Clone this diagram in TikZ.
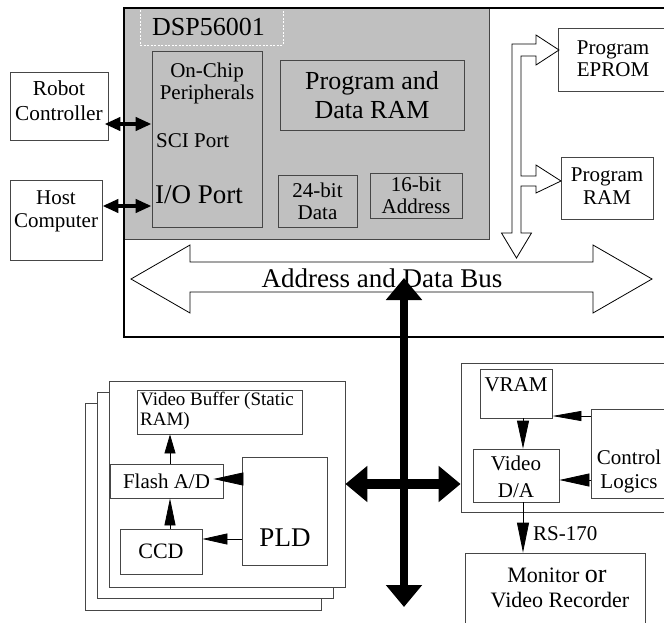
\documentclass[tikz,border=0pt]{standalone}
\usepackage{fontspec}
\setmainfont{Liberation Serif}
\usetikzlibrary{arrows.meta,calc}
\definecolor{chipgray}{RGB}{192,192,192}
\definecolor{edge}{RGB}{70,70,70}
\newcommand\myfs[2]{\fontsize{#1}{#2}\selectfont}
\begin{document}
\begin{tikzpicture}[x=1pt,y=-1pt,
  box/.style={draw=edge, line width=0.8pt, fill=white, inner sep=0pt},
  inbox/.style={draw=edge, line width=0.8pt, inner sep=0pt, align=center},
  txt/.style={inner sep=0pt, align=center},
  hollow/.style={draw=black, line width=0.8pt, fill=white, line join=miter},
  thinarrow/.style={draw=black, line width=0.8pt},
  ah/.style n args={2}{-{Triangle[length=#1pt,width=#2pt]}},
  dah/.style n args={2}{{Triangle[length=#1pt,width=#2pt]}-{Triangle[length=#1pt,width=#2pt]}},
  busarrow/.style={draw=black, dah={22}{35}}]
\useasboundingbox (0,0) rectangle (664,623);
\clip (0,0) rectangle (664,623);

% ---- DSP chip area ----
\node[draw=edge, line width=0.8pt, fill=chipgray, minimum width=365pt, minimum height=231pt] (dsp) at (306.5,123.5) {};
\node[draw=white, line width=0.6pt, dash pattern=on 2pt off 1.5pt, minimum width=143pt, minimum height=37pt] (dsplabel) at (211.5,26.5) {};
\node[txt, font=\myfs{26}{30}, anchor=base west] (dspname) at (152,36) {DSP56001};

\node[inbox, minimum width=110pt, minimum height=176pt] (periph) at (207,139) {};
\node[txt, font=\myfs{21}{22}] (periphtxt) at (207,83) {On-Chip\\Peripherals};
\node[txt, font=\myfs{21}{25}, anchor=base west] (sci) at (156,147) {SCI Port};
\node[txt, font=\myfs{27}{30}, anchor=base west] (io) at (155,203) {I/O Port};

\node[inbox, minimum width=184pt, minimum height=70pt, font=\myfs{26}{29}] (ram) at (372,95) {Program and\\Data RAM};
\node[inbox, minimum width=79pt, minimum height=52pt, font=\myfs{21}{22}] (d24) at (317.5,201) {24-bit\\Data};
\node[inbox, minimum width=92pt, minimum height=45pt, font=\myfs{21}{22}] (a16) at (416,195.5) {16-bit\\Address};

% ---- main board frame ----
\node[draw=black, line width=2pt, minimum width=576pt, minimum height=329pt] (board) at (412,172.5) {};

% ---- external units ----
\node[box, minimum width=98pt, minimum height=68pt] (robot) at (59,106) {};
\node[txt, font=\myfs{21.3}{25}] (robottxt) at (59,101) {Robot\\Controller};
\node[box, minimum width=92pt, minimum height=80pt] (host) at (56,220) {};
\node[txt, font=\myfs{21}{23}] (hosttxt) at (56,211) {Host\\Computer};

\draw[line width=4pt, dah={16}{13}] ($(robot.east |- 0,124)+(-4,0)$) -- (periph.west |- 0,124);
\draw[line width=4pt, dah={16}{13}] (host.east |- 0,206) -- (periph.west |- 0,206);

% ---- program memories ----
\node[box, minimum width=142pt, minimum height=63pt] (eprom) at (629,59.5) {};
\node[txt, font=\myfs{21}{22}] (epromtxt) at (613,59) {Program\\EPROM};
\node[box, minimum width=92pt, minimum height=62pt] (pram) at (607,188) {};
\node[txt, font=\myfs{21}{23}] (pramtxt) at (607,186) {Program\\RAM};

% ---- address and data bus ----
\draw[hollow] (131,279) -- (190,245) -- (190,262) -- (593,262) -- (593,245)
  -- (652,279) -- (593,313) -- (593,292) -- (190,292) -- (190,313) -- cycle;
\node[txt, font=\myfs{27}{30}, anchor=base] (bus) at (382,287) {Address and Data Bus};

% bus branch to the program memories
\draw[hollow] (512,44) -- (536,44) -- (536,35) -- (559,50) -- (536,65) -- (536,56)
  -- (521,56) -- (521,176) -- (536,176) -- (536,165) -- (561,181) -- (536,193)
  -- (536,186) -- (521,186) -- (521,233) -- (531.5,233) -- (516.5,258)
  -- (501.5,233) -- (512,233) -- cycle;

% ---- camera boards (stacked) ----
\node[box, minimum width=236pt, minimum height=207pt] (back) at (203,506.5) {};
\node[box, minimum width=236pt, minimum height=206pt] (mid) at (215,495) {};
\node[box, minimum width=236pt, minimum height=206pt] (front) at (227,484) {};

\node[box, minimum width=165pt, minimum height=44pt] (vbuf) at (219.5,412) {};
\node[txt, font=\myfs{19}{20}, anchor=base west] (vbufa) at (140,405) {Video Buffer (Static};
\node[txt, font=\myfs{19}{20}, anchor=base west] (vbufb) at (140,425) {RAM)};
\node[box, minimum width=113pt, minimum height=34pt, font=\myfs{21}{24}] (flash) at (166.5,481) {Flash A/D};
\node[box, minimum width=82pt, minimum height=45pt, font=\myfs{22}{24}] (ccd) at (161,551.5) {CCD};
\node[box, minimum width=85pt, minimum height=108pt] (pld) at (284.5,511) {};
\node[txt, font=\myfs{27}{30}, anchor=base] (pldtxt) at (285,546) {PLD};

\draw[thinarrow, ah={19}{11}] (flash.north -| 170,0) -- (vbuf.south -| 170,0);
\draw[thinarrow, ah={27}{11}] (ccd.north -| 170,0) -- (flash.south -| 170,0);
\draw[thinarrow, ah={30}{13}] (pld.west |- 0,479) -- ($(flash.east |- 0,479)+(-10,0)$);
\draw[thinarrow, ah={25}{11}] (pld.west |- 0,539) -- (ccd.east |- 0,539);

% ---- display board ----
\node[box, minimum width=239pt, minimum height=149pt] (rboard) at (580.5,437.5) {};
\node[box, minimum width=72pt, minimum height=49pt] (vram) at (516,393.5) {};
\node[txt, font=\myfs{21}{24}, anchor=base] (vramtxt) at (516,391) {VRAM};
\node[box, minimum width=86pt, minimum height=53pt] (vda) at (516,475.5) {};
\node[txt, font=\myfs{21}{27}] (vdatxt) at (516,477) {Video\\D/A};
\node[box, minimum width=109pt, minimum height=89pt] (ctrl) at (645.5,453.5) {};
\node[txt, font=\myfs{21}{24}] (ctrltxt) at (629,471) {Control\\Logics};
\node[box, minimum width=180pt, minimum height=147pt] (monitor) at (555,626.5) {};
\node[txt, font=\myfs{22}{25}, anchor=base] (montxta) at (557,582) {Monitor {\myfs{26}{28}or}};
\node[txt, font=\myfs{22}{25}, anchor=base] (montxtb) at (560,607) {Video Recorder};

\draw[thinarrow, ah={28}{12}] (vram.south -| 523,0) -- (vda.north -| 523,0);
\draw[thinarrow, ah={29}{10}] (ctrl.west |- 0,416) -- (vram.east |- 0,416);
\draw[thinarrow, ah={30}{13}] (ctrl.west |- 0,480) -- (vda.east |- 0,480);
\draw[thinarrow, ah={30}{12}] (vda.south -| 523,0) -- (monitor.north -| 523,0);
\node[txt, font=\myfs{21}{24}, anchor=base west] (rs) at (533,540) {RS-170};

% ---- system bus links ----
\coordinate (vtop) at (404,278);
\coordinate (vbot) at (404,607);
\draw[busarrow, line width=8pt] (vtop) -- (vbot);
\draw[busarrow, line width=10pt] (front.east) -- (rboard.west |- front.east);

\end{tikzpicture}
\end{document}
